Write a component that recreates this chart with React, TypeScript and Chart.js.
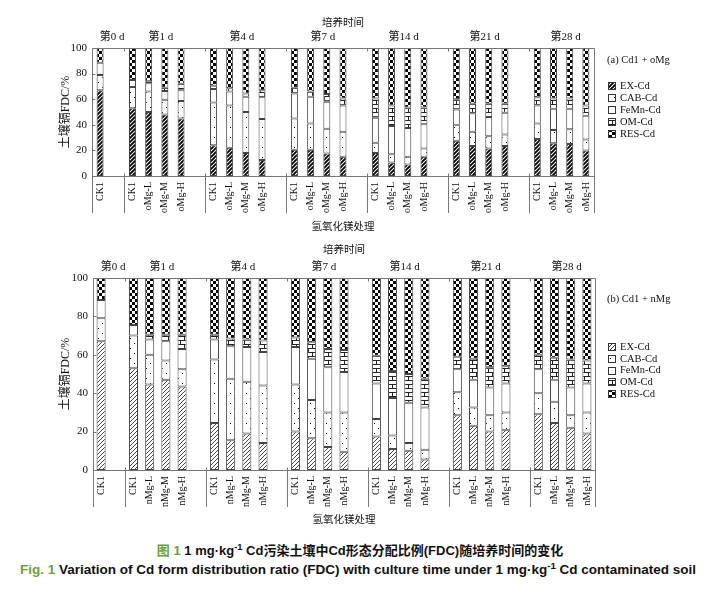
import React, { useEffect, useRef } from 'react';
import { Chart, registerables } from 'chart.js';
Chart.register(...registerables);

// ---------- data ----------
const days = ['第0 d', '第1 d', '第4 d', '第7 d', '第14 d', '第21 d', '第28 d'];
const treatA = ['oMg-L', 'oMg-M', 'oMg-H'];
const treatB = ['nMg-L', 'nMg-M', 'nMg-H'];
const fractions = ['EX-Cd', 'CAB-Cd', 'FeMn-Cd', 'OM-Cd', 'RES-Cd'];

// bar order: d0 CK1, then for each later day CK1, L, M, H
const exA = [67, 53, 50, 48, 45, 24, 22, 18, 12.5, 20.5, 20.5, 17.5, 15, 18, 10.5, 9, 15, 27.5, 23.5, 21.5, 23.5, 29, 25.5, 25, 20];
const cabA = [12, 16.5, 16, 11.5, 13.5, 33.5, 33, 32, 32, 24.5, 20.5, 19.5, 19.5, 8, 6.5, 6, 6.5, 12.5, 11, 9.5, 9, 12, 10.5, 11.5, 8.5];
const femnA = [9.5, 5.5, 6.5, 7, 8.5, 10.5, 11, 12, 17, 19.5, 21, 21, 20.5, 19.5, 22, 22.5, 19, 12, 14.5, 15, 17, 14, 16.5, 16, 18.5];
const omA = [0, 0, 1.5, 2.5, 5, 2.5, 2.5, 2.5, 5.5, 4.5, 4, 6, 5.5, 15, 16, 16, 13, 8, 7.5, 10.5, 7, 6.5, 8, 8, 8];
const resA = [11.5, 25, 26, 31, 28, 29.5, 31.5, 35.5, 33, 31, 34, 36, 39.5, 39.5, 45, 46.5, 46.5, 40, 43.5, 43.5, 43.5, 38.5, 39.5, 39.5, 45];

const exB = [67, 53, 44.5, 47, 43.5, 24.5, 15.5, 19, 14, 20, 16.5, 12, 9.5, 17.5, 11, 10, 5.5, 28.5, 23, 20, 21, 29, 24.5, 22, 19];
const cabB = [12, 17, 15.5, 10, 9, 33, 32, 27, 30, 24.5, 20, 18, 20.5, 9, 7, 4, 5, 12, 9.5, 8.5, 9, 11, 11, 6.5, 11];
const femnB = [9.5, 5.5, 8, 10, 10.5, 10.5, 17, 18, 17.5, 19.5, 21.5, 23.5, 21, 18.5, 19.5, 21, 22, 12, 14.5, 14.5, 15, 12.5, 11.5, 14.5, 15];
const omB = [0, 0, 2.5, 3.5, 7.5, 2.5, 4, 4, 6, 5, 8.5, 9.5, 11.5, 14.5, 14, 15, 15, 6.5, 11, 10.5, 9, 7.5, 11.5, 14.5, 12];
const resB = [11.5, 24.5, 29.5, 29.5, 29.5, 29.5, 31.5, 32, 32.5, 31, 33.5, 37, 37.5, 40.5, 48.5, 50, 52.5, 41, 42, 46.5, 46, 40, 41.5, 42.5, 43];

const yTicks = [0, 20, 40, 60, 80, 100];
const headText = '培养时间';
const xTitle = '氢氧化镁处理';
const yTitle = '土壤镉FDC/%';

// ---------- layout ----------
const W = 726;
const SERIF = "'Liberation Serif', 'Noto Sans CJK SC', serif";

interface PanelSpec {
  height: number; areaTop: number; areaBottom: number; left: number; right: number;
  labelBottom: number; headY: number; dayY: number; xTitleY: number;
  legendTitle: string; legendTitleY: number; legendY0: number; legendStep: number;
  barPct: number; hatchW: number; hatchColor: string;
  treat: string[]; values: number[][];
}

function buildSlots(treat: string[]) {
  const labels: string[] = [];
  const barSlot: number[] = [];
  const groups: { label: string; first: number; n: number }[] = [];
  days.forEach((d, gi) => {
    const names = gi === 0 ? ['CK1'] : ['CK1', ...treat];
    const first = labels.length;
    names.forEach((n) => { barSlot.push(labels.length); labels.push(n); });
    groups.push({ label: d, first, n: names.length });
    if (gi < days.length - 1) labels.push('');
  });
  return { labels, barSlot, groups };
}

function makePatterns(ctx: CanvasRenderingContext2D, hatchW: number, hatchColor: string) {
  const mk = (w: number, h: number, draw: (c: CanvasRenderingContext2D) => void) => {
    const cv = document.createElement('canvas');
    cv.width = w; cv.height = h;
    const c = cv.getContext('2d')!;
    c.fillStyle = '#fff'; c.fillRect(0, 0, w, h);
    draw(c);
    return ctx.createPattern(cv, 'repeat')!;
  };
  const ex = mk(4, 4, (c) => {
    c.strokeStyle = hatchColor; c.lineWidth = hatchW; c.beginPath();
    c.moveTo(-1, 5); c.lineTo(5, -1);
    c.moveTo(-1, 1); c.lineTo(1, -1);
    c.moveTo(3, 5); c.lineTo(5, 3);
    c.stroke();
  });
  const cab = mk(8, 10, (c) => { c.fillStyle = '#000'; c.fillRect(2, 2, 1, 1); c.fillRect(6, 7, 1, 1); });
  const femn = '#ffffff';
  const om = mk(8, 8, (c) => {
    c.fillStyle = '#222';
    c.fillRect(0, 0, 8, 1); c.fillRect(0, 4, 8, 1);
    c.fillRect(4, 0, 1, 4); c.fillRect(0, 4, 1, 4);
  });
  const res = mk(6, 6, (c) => { c.fillStyle = '#000'; c.fillRect(0, 0, 3, 3); c.fillRect(3, 3, 3, 3); });
  return [ex, cab, femn, om, res];
}

function Panel({ spec, top }: { spec: PanelSpec; top: number }) {
  const ref = useRef<HTMLCanvasElement>(null);
  useEffect(() => {
    const canvas = ref.current!;
    const ctx0 = canvas.getContext('2d')!;
    const { labels, barSlot, groups } = buildSlots(spec.treat);
    const pats = makePatterns(ctx0, spec.hatchW, spec.hatchColor);
    const datasets = fractions.map((f, k) => {
      const data: (number | null)[] = labels.map(() => null);
      spec.values[k].forEach((v, i) => { data[barSlot[i]] = v; });
      return {
        label: f, data, backgroundColor: pats[k] as any, borderColor: '#444', borderWidth: 1,
        borderSkipped: false as any, barPercentage: spec.barPct, categoryPercentage: 1,
      };
    });

    const decor = {
      id: 'decor',
      afterDraw(chart: any) {
        const { ctx, chartArea: a, scales } = chart;
        const slotW = (a.right - a.left) / labels.length;
        const L = Math.round(a.left) + 0.5, R = Math.round(a.right) + 0.5;
        const T = Math.round(a.top) + 0.5, B = Math.round(a.bottom) + 0.5;
        const LB = spec.labelBottom;
        ctx.save();
        ctx.strokeStyle = '#777'; ctx.lineWidth = 1;
        const line = (x1: number, y1: number, x2: number, y2: number) => {
          ctx.beginPath(); ctx.moveTo(x1, y1); ctx.lineTo(x2, y2); ctx.stroke();
        };
        line(L, T, R, T); line(L, B, R, B);
        line(L, T, L, LB); line(R, T, R, LB);
        groups.forEach((g, gi) => {
          if (gi === 0) return;
          const x = Math.round(a.left + g.first * slotW) + 0.5;
          line(x, B, x, LB); line(x, T, x, T + 3); line(x, B - 3, x, B);
        });
        yTicks.forEach((v) => {
          const y = Math.round(scales.y.getPixelForValue(v)) + 0.5;
          line(L, y, L + 3, y);
        });
        ctx.fillStyle = '#111';
        ctx.textAlign = 'center'; ctx.textBaseline = 'middle';
        const cx = (a.left + a.right) / 2;
        ctx.font = `10.5px ${SERIF}`;
        ctx.fillText(headText, cx, spec.headY);
        ctx.fillText(xTitle, cx, spec.xTitleY);
        ctx.font = `11px ${SERIF}`;
        groups.forEach((g) => {
          const x = a.left + (g.first + (g.n - 1) / 2 + 0.5) * slotW + (g.n === 1 ? 0.75 : 0.25) * slotW;
          ctx.fillText(g.label, x, spec.dayY);
        });
        ctx.save();
        ctx.translate(66, (a.top + a.bottom) / 2);
        ctx.rotate(-Math.PI / 2);
        ctx.font = `12px ${SERIF}`;
        ctx.fillText(yTitle, 0, 0);
        ctx.restore();
        // legend
        ctx.textAlign = 'left';
        ctx.font = `10.5px ${SERIF}`;
        ctx.fillText(spec.legendTitle, 607, spec.legendTitleY);
        fractions.forEach((f, k) => {
          const y = spec.legendY0 + k * spec.legendStep;
          ctx.fillStyle = pats[k] as any;
          ctx.fillRect(608, Math.round(y - 4), 8, 8);
          ctx.strokeStyle = '#333';
          ctx.strokeRect(608.5, Math.round(y - 4) + 0.5, 7, 7);
          ctx.fillStyle = '#111';
          ctx.fillText(f, 620, y);
        });
        ctx.restore();
      },
    };

    const chart = new Chart(canvas, {
      type: 'bar',
      data: { labels, datasets },
      options: {
        responsive: false,
        animation: false,
        layout: { padding: { left: 0, right: W - spec.right, top: spec.areaTop, bottom: 0 } },
        plugins: { legend: { display: false }, tooltip: { enabled: false } },
        scales: {
          x: {
            stacked: true,
            grid: { display: false, drawTicks: false },
            border: { display: false },
            ticks: { autoSkip: false, maxRotation: 90, minRotation: 90, padding: 6, color: '#111', font: { family: SERIF, size: 10 } },
            afterFit: (s: any) => { s.height = spec.height - spec.areaBottom; },
          },
          y: {
            stacked: true, min: 0, max: 100,
            grid: { display: false, drawTicks: false },
            border: { display: false },
            ticks: { stepSize: 20, padding: 5, color: '#111', font: { family: SERIF, size: 11 } },
            afterFit: (s: any) => { s.width = spec.left; },
          },
        },
      } as any,
      plugins: [decor],
    });
    return () => chart.destroy();
  }, [spec]);
  return (
    <canvas ref={ref} width={W} height={spec.height}
      style={{ position: 'absolute', left: 0, top, width: W, height: spec.height }} />
  );
}

const specA: PanelSpec = {
  height: 236, areaTop: 48, areaBottom: 176, left: 92, right: 594,
  labelBottom: 213, headY: 23, dayY: 37, xTitleY: 227,
  legendTitle: '(a) Cd1 + oMg', legendTitleY: 60, legendY0: 86, legendStep: 12,
  barPct: 0.43, hatchW: 1.9, hatchColor: '#000',
  treat: treatA, values: [exA, cabA, femnA, omA, resA],
};
const specB: PanelSpec = {
  height: 294, areaTop: 42, areaBottom: 234, left: 93, right: 595,
  labelBottom: 271, headY: 14, dayY: 31, xTitleY: 284,
  legendTitle: '(b) Cd1 + nMg', legendTitleY: 63, legendY0: 111, legendStep: 11.8,
  barPct: 0.56, hatchW: 0.9, hatchColor: '#333',
  treat: treatB, values: [exB, cabB, femnB, omB, resB],
};

const supStyle: React.CSSProperties = { fontSize: '0.72em', verticalAlign: 'super', lineHeight: 0 };
const green = '#6aa23a';

export default function App() {
  return (
    <div style={{ position: 'absolute', left: 0, top: 0, width: W, height: 593, background: '#fff', overflow: 'hidden' }}>
      <Panel spec={specA} top={0} />
      <Panel spec={specB} top={236} />
      <div style={{ position: 'absolute', left: 0, top: 540, width: 720, textAlign: 'center', lineHeight: '16px', whiteSpace: 'nowrap',
        font: "bold 13px 'Liberation Sans', 'Noto Sans CJK SC', sans-serif", color: '#111' }}>
        <span style={{ color: green }}>图 1</span> 1 mg·kg<span style={supStyle}>-1</span> Cd污染土壤中Cd形态分配比例(FDC)随培养时间的变化
      </div>
      <div style={{ position: 'absolute', left: 0, top: 562, width: 716, textAlign: 'center', lineHeight: '16px', whiteSpace: 'nowrap',
        font: "bold 13.5px 'Liberation Sans', sans-serif", color: '#111' }}>
        <span style={{ color: green }}>Fig. 1</span> Variation of Cd form distribution ratio (FDC) with culture time under 1 mg·kg<span style={supStyle}>-1</span> Cd contaminated soil
      </div>
    </div>
  );
}
